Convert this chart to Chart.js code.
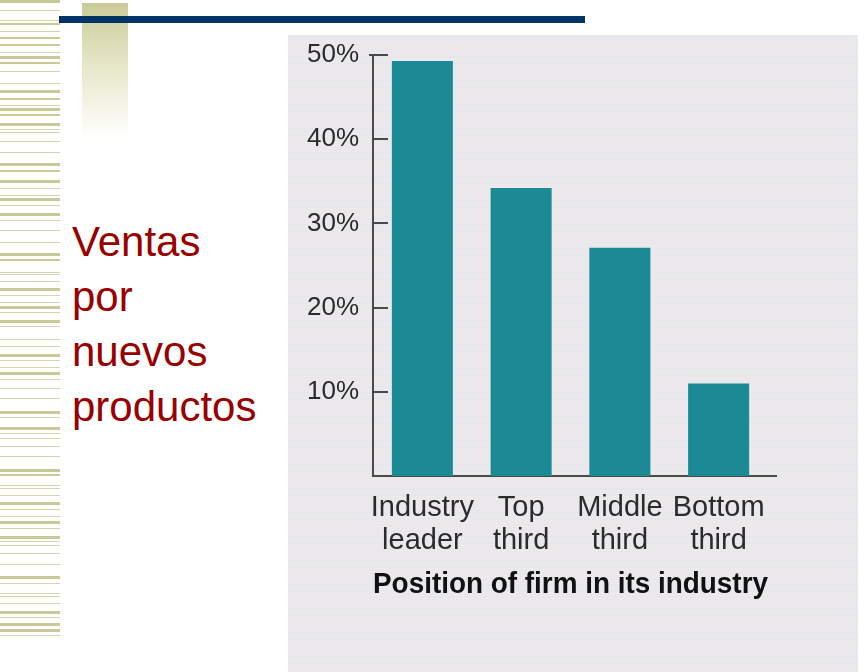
<!DOCTYPE html>
<html>
<head>
<meta charset="utf-8">
<script src="https://cdn.jsdelivr.net/npm/chart.js@4.4.0/dist/chart.umd.min.js"></script>
<style>
  html, body { margin: 0; padding: 0; background: #fff; }
  body { width: 864px; height: 672px; position: relative; overflow: hidden; font-family: "Liberation Sans", Arial, sans-serif; }
  #stripes { position: absolute; left: 0; top: 0; width: 60px; height: 672px; }
  .fade { position: absolute; left: 82px; top: 3px; width: 46px; height: 135px;
          background: linear-gradient(#cbcb99, #e6e6c8 45%, #ffffff); }
  .navy { position: absolute; left: 59px; top: 16px; width: 526px; height: 7px; background: #003366; }
  .side { position: absolute; left: 72px; top: 214px; color: #990000; font-size: 42px; line-height: 55px; }
  .scan { position: absolute; left: 288px; top: 35px; width: 570px; height: 637px;
          background: repeating-linear-gradient(#eae8ef 0px, #eae8ef 2px, #efe9ea 2px, #efe9ea 3px, #e8e7f0 3px, #e8e7f0 5px, #eeebe2 5px, #eeebe2 6px); }
  #chart { position: absolute; left: 0; top: 0; }
</style>
</head>
<body>
<canvas id="stripes" width="60" height="672"></canvas>
<div class="fade"></div>
<div class="navy"></div>
<div class="side">Ventas<br>por<br>nuevos<br>productos</div>
<div class="scan"><canvas id="chart" width="570" height="637"></canvas></div>

<script>
const categories = [['Industry', 'leader'], ['Top', 'third'], ['Middle', 'third'], ['Bottom', 'third']]
const salesShare = [49.3, 34.2, 27.1, 11.0]
const yTicks = [10, 20, 30, 40, 50]

// decorative stripes on the left edge: [y, height]
const stripeRows = [
  [0, 3], [10, 1], [20, 1], [23, 2], [31, 1], [37, 2], [44, 2], [52, 1], [56, 3], [62, 2], [71, 1], [83, 1],
  [90, 3], [98, 2], [105, 1], [108, 3], [114, 2], [123, 3], [129, 1], [132, 1], [141, 1], [152, 1],
  [163, 3], [170, 2], [180, 3], [188, 1], [195, 1], [198, 3], [205, 1], [213, 3], [220, 1],
  [230, 1], [242, 1], [253, 3], [259, 2], [272, 1], [274, 1], [281, 1], [288, 3], [295, 1], [302, 1],
  [306, 3], [312, 1], [320, 3], [326, 1], [339, 1], [346, 1], [354, 3], [360, 1], [367, 1], [372, 3],
  [379, 1], [388, 1], [398, 1], [411, 3], [417, 1], [427, 3], [433, 1], [438, 1], [446, 1], [456, 1],
  [469, 3], [474, 2], [485, 1], [488, 1], [495, 1], [502, 3], [509, 1], [516, 1], [521, 3], [528, 1],
  [536, 3], [541, 1], [545, 1], [553, 1], [564, 1], [576, 3], [583, 1], [593, 1], [596, 1], [603, 1],
  [611, 3], [617, 1], [623, 3], [629, 3], [635, 1]
]

const sctx = document.getElementById('stripes').getContext('2d')
stripeRows.forEach(([y, h]) => {
  sctx.fillStyle = h > 1 ? '#c9c99a' : '#d4d4b0'
  sctx.fillRect(0, y, 60, h)
})

// tick marks drawn inward from the y axis, plus the x axis running a bit past the last bar
const innerTicks = {
  id: 'innerTicks',
  afterDraw(chart) {
    const ctx = chart.ctx
    const y = chart.scales.y
    const { left, right, bottom } = chart.chartArea
    ctx.save()
    ctx.strokeStyle = '#4a4a4a'
    ctx.lineWidth = 2
    yTicks.forEach(v => {
      const py = Math.round(y.getPixelForValue(v))
      ctx.beginPath()
      ctx.moveTo(v === 50 ? left - 4 : left, py)
      ctx.lineTo(left + 15, py)
      ctx.stroke()
    })
    ctx.beginPath()
    ctx.moveTo(right, Math.round(bottom))
    ctx.lineTo(right + 9, Math.round(bottom))
    ctx.stroke()
    ctx.restore()
  }
}

new Chart(document.getElementById('chart'), {
  type: 'bar',
  data: {
    labels: categories,
    datasets: [{
      data: salesShare,
      backgroundColor: '#1b8a94',
      borderWidth: 0,
      categoryPercentage: 1,
      barPercentage: 0.618
    }]
  },
  options: {
    responsive: false,
    animation: false,
    layout: { padding: { top: 20, right: 90, bottom: 70, left: 0 } },
    plugins: { legend: { display: false }, tooltip: { enabled: false } },
    scales: {
      x: {
        grid: { display: false, drawTicks: false },
        border: { display: true, color: '#4a4a4a', width: 2 },
        ticks: {
          color: '#2b2b2b',
          padding: 15,
          maxRotation: 0,
          minRotation: 0,
          autoSkip: false,
          font: { size: 29, family: 'Liberation Sans', lineHeight: 1.14 }
        },
        title: {
          display: true,
          text: 'Position of firm in its industry',
          color: '#111',
          padding: { top: 0, bottom: 0 },
          font: { size: 29, weight: 'bold', family: 'Liberation Sans' }
        },
        afterFit(scale) { scale.height = 126 }
      },
      y: {
        min: 0,
        max: 50,
        grid: { display: false, drawTicks: false },
        border: { display: true, color: '#4a4a4a', width: 2 },
        ticks: {
          stepSize: 10,
          padding: 14,
          color: '#2b2b2b',
          font: { size: 26, family: 'Liberation Sans' },
          callback: v => (v === 0 ? '' : v + '%')
        },
        afterFit(scale) {
          scale.width = 85
          scale.paddingTop = 0
          scale.paddingBottom = 0
        }
      }
    }
  },
  plugins: [innerTicks]
})
</script>
</body>
</html>
